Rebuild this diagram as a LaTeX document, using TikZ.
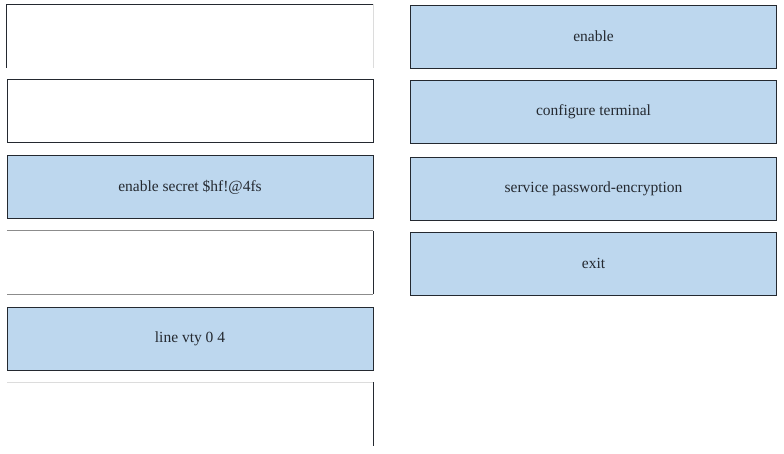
\documentclass[tikz,border=0pt]{standalone}
\usepackage{fontspec}
\setmainfont{Liberation Serif}
\usepackage{xcolor}

\definecolor{cfill}{rgb}{0.741,0.843,0.933}
\definecolor{cline}{rgb}{0.14,0.16,0.19}
\definecolor{cfaint}{rgb}{0.55,0.55,0.55}

\tikzset{
  slot/.style={minimum width=366pt,minimum height=63pt,inner sep=0pt,
    text=cline,font=\fontsize{15.5}{18}\selectfont},
  answer/.style={slot,draw=cline,fill=cfill,line width=1pt},
  blank/.style={slot,draw=cline,line width=1pt},
  halfblank/.style={slot},
  edge/.style={cline,line width=1pt},
  faint/.style={cfaint,line width=0.8pt}
}

\begin{document}
\begin{tikzpicture}[x=1pt,y=-1pt]
\useasboundingbox (0,0) rectangle (784,453);
%
\node[halfblank] (l1) at (190,36) {};
\node[blank] (l2) at (190,110.5) {};
\node[answer] (l3) at (190,187) {enable secret \$hf!@4fs};
\node[halfblank] (l4) at (190,262.5) {};
\node[answer] (l5) at (190,338.5) {line vty 0 4};
\node[halfblank] (l6) at (190,414) {};
%
\node[answer] (r1) at (593.5,36.5) {enable};
\node[answer] (r2) at (593.5,111.5) {configure terminal};
\node[answer] (r3) at (593.5,188.5) {service password-encryption};
\node[answer] (r4) at (593.5,263.5) {exit};
%
\draw[edge] (l1.south west) -- (l1.north west) -- (l1.north east);
\draw[faint,opacity=0.3] (l1.north east) -- (l1.south east);
\draw[faint] (l4.north west) -- (l4.north east);
\draw[edge] (l4.north east) -- (l4.south east);
\draw[faint] (l4.south east) -- (l4.south west);
\draw[faint,opacity=0.3] (l6.north west) -- (l6.north east);
\draw[edge] (l6.north east) -- (l6.south east);
%
\end{tikzpicture}
\end{document}
